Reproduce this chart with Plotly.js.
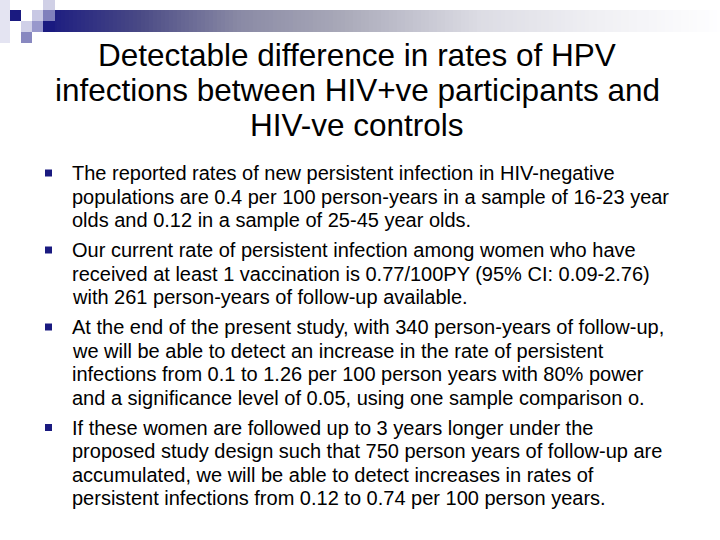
<!DOCTYPE html>
<html>
<head>
<meta charset="utf-8">
<script src="https://cdn.plot.ly/plotly-3.0.1.min.js"></script>
<style>html,body{margin:0;padding:0;background:#fff;}#chart{width:720px;height:540px;}</style>
</head>
<body>
<div id="chart"></div>
<script>
// ---- content ----
var titleLines = [
  "Detectable difference in rates of HPV",
  "infections between HIV+ve participants and",
  "HIV-ve controls"
];
var bullet1 = [
  "The reported rates of new persistent infection in HIV-negative",
  "populations are 0.4 per 100 person-years in a sample of 16-23 year",
  "olds and 0.12 in a sample of 25-45 year olds."
];
var bullet2 = [
  "Our current rate of persistent infection among women who have",
  "received at least 1 vaccination is 0.77/100PY (95% CI: 0.09-2.76)",
  "with 261 person-years of follow-up available."
];
var bullet3 = [
  "At the end of the present study, with 340 person-years of follow-up,",
  "we will be able to detect an increase in the rate of persistent",
  "infections from 0.1 to 1.26 per 100 person years with 80% power",
  "and a significance level of 0.05, using one sample comparison o."
];
var bullet4 = [
  "If these women are followed up to 3 years longer under the",
  "proposed study design such that 750 person years of follow-up are",
  "accumulated, we will be able to detect increases in rates of",
  "persistent infections from 0.12 to 0.74 per 100 person years."
];
var bullets = [bullet1, bullet2, bullet3, bullet4];

// ---- layout helpers ----
var FONT = "Liberation Sans, Arial, sans-serif";
var annotations = [];
var shapes = [];

// decorative squares top-left
var deco = [
  [0, 0, 10, 43, "#e4e4f2"],
  [10, 10, 21, 21, "#1a1a80"],
  [21, 21, 32, 32, "#d0d0e8"],
  [21, 32, 32, 43, "#8888c0"],
  [32, 10, 43, 21, "#c8c8e4"],
  [32, 21, 43, 32, "#9898cc"],
  [43, 0, 55, 10, "#d0d0e6"]
];

// gradient bar
var stops = [[45, [26, 26, 128]], [140, [74, 74, 133]], [240, [138, 138, 165]],
             [340, [168, 168, 184]], [480, [220, 220, 228]], [600, [240, 240, 244]], [720, [254, 254, 255]]];
function colAt(x) {
  for (var i = 0; i < stops.length - 1; i++) {
    var a = stops[i], b = stops[i + 1];
    if (x >= a[0] && x <= b[0]) {
      var t = (x - a[0]) / (b[0] - a[0]);
      var c = a[1].map(function (v, k) { return Math.round(v + t * (b[1][k] - v)); });
      return "rgb(" + c.join(",") + ")";
    }
  }
  return "rgb(254,254,255)";
}
var step = 4;
for (var x = 45; x < 720; x += step) {
  shapes.push({type: "rect", xref: "x", yref: "y", x0: x, x1: Math.min(x + step + 0.5, 720), y0: 10, y1: 32,
    fillcolor: colAt(x + step / 2), line: {width: 0}, layer: "below"});
}
deco.forEach(function (d) {
  shapes.push({type: "rect", xref: "x", yref: "y", x0: d[0], y0: d[1], x1: d[2], y1: d[3],
    fillcolor: d[4], line: {width: 0}, layer: "below"});
});
shapes.push({type: "rect", xref: "x", yref: "y", x0: 43, y0: 10, x1: 55, y1: 21,
  fillcolor: "#8080bc", line: {width: 0}, layer: "below"});
shapes.push({type: "rect", xref: "x", yref: "y", x0: 43, y0: 21, x1: 55, y1: 32,
  fillcolor: "#1a1a80", line: {width: 0}, layer: "below"});

// title
var titleY0 = 55, titleStep = 35;
titleLines.forEach(function (t, i) {
  annotations.push({text: t, x: 357, y: titleY0 + i * titleStep, xref: "x", yref: "y",
    xanchor: "center", yanchor: "middle", showarrow: false,
    font: {family: FONT, size: 31.5, color: "#000"}});
});

// bullets
var y = 173, lineStep = 23.5, groupGap = 6.5;
bullets.forEach(function (lines) {
  shapes.push({type: "rect", xref: "x", yref: "y", x0: 45, x1: 52, y0: y - 3.5, y1: y + 3.5,
    fillcolor: "#1a1a80", line: {width: 0}});
  lines.forEach(function (t) {
    annotations.push({text: t, x: 70, y: y, xref: "x", yref: "y",
      xanchor: "left", yanchor: "middle", showarrow: false,
      font: {family: FONT, size: 20, color: "#000"}});
    y += lineStep;
  });
  y += groupGap;
});

var layout = {
  width: 720, height: 540,
  margin: {l: 0, r: 0, t: 0, b: 0},
  paper_bgcolor: "#fff", plot_bgcolor: "#fff",
  xaxis: {range: [0, 720], visible: false, fixedrange: true},
  yaxis: {range: [540, 0], visible: false, fixedrange: true},
  showlegend: false,
  shapes: shapes,
  annotations: annotations
};
Plotly.newPlot("chart", [], layout, {staticPlot: true, displayModeBar: false});
</script>
</body>
</html>
